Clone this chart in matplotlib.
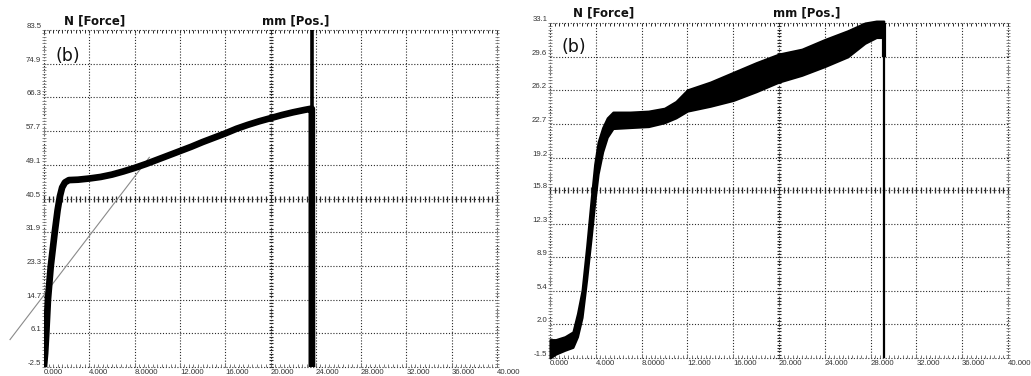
import numpy as np
import matplotlib.pyplot as plt

# ---------------- data ----------------
pos_ticks = [0, 4, 8, 12, 16, 20, 24, 28, 32, 36, 40]
pos_tick_labels = ["0.000", "4.000", "8.0000", "12.000", "16.000", "20.000",
                   "24.000", "28.000", "32.000", "36.000", "40.000"]

force_ticks_a = [-2.5, 6.1, 14.7, 23.3, 31.9, 40.5, 49.1, 57.7, 66.3, 74.9, 83.5]
force_ticks_b = [-1.5, 2.0, 5.4, 8.9, 12.3, 15.8, 19.2, 22.7, 26.2, 29.6, 33.1]

# left panel: force vs position
pos_a = [0.0, 0.1, 0.2, 0.35, 0.6, 0.95, 1.2, 1.4, 1.6, 1.85, 2.2, 3.0, 4.0,
         5.0, 6.0, 7.0, 8.0, 9.0, 10.0, 11.0, 12.0, 13.0, 14.0, 15.0, 16.0,
         17.0, 18.0, 19.0, 20.0, 21.0, 22.0, 23.0, 23.55]
force_a = [-2.3, 1.0, 6.0, 14.7, 23.3, 31.9, 37.5, 41.0, 43.3, 44.6, 45.2,
           45.3, 45.6, 46.0, 46.6, 47.4, 48.3, 49.3, 50.4, 51.5, 52.6, 53.7,
           54.9, 56.0, 57.1, 58.3, 59.3, 60.2, 61.0, 61.8, 62.5, 63.1, 63.4]
break_pos_a = 23.65
break_force_a = -2.5

# construction line (elastic slope)
tangent_pos = [-3.0, 9.3]
tangent_force = [4.5, 51.0]

# right panel: noisy force signal, lower/upper envelope
pos_b = [0.0, 0.5, 1.3, 2.0, 2.4, 2.8, 3.2, 3.6, 3.9, 4.2, 4.6, 5.0, 5.5,
         7.0, 8.6, 10.0, 11.0, 12.0, 14.0, 16.0, 18.0, 20.0, 22.0, 24.0,
         26.0, 27.5, 28.5, 29.15]
force_b_upper = [0.4, 0.4, 0.7, 1.2, 3.1, 5.5, 10.0, 15.0, 18.5, 20.8, 22.3,
                 23.3, 23.9, 23.9, 24.0, 24.3, 25.0, 26.2, 27.0, 28.0, 29.0,
                 29.9, 30.4, 31.4, 32.3, 33.1, 33.3, 33.3]
force_b_lower = [-1.5, -1.1, -0.7, -0.4, 0.7, 2.7, 6.6, 11.0, 14.5, 17.5, 19.8,
                 21.3, 22.2, 22.3, 22.4, 22.8, 23.3, 24.0, 24.5, 25.1, 26.0,
                 27.0, 27.7, 28.6, 29.6, 31.0, 31.6, 31.6]
break_pos_b = 29.2
break_force_b = [33.0, -1.5]

# ---------------- figure ----------------
fig = plt.figure(figsize=(10.31, 3.76), dpi=100)
ax_a = fig.add_axes([44 / 1031, 9 / 376, 453 / 1031, 337 / 376])
ax_b = fig.add_axes([550 / 1031, 18 / 376, 458 / 1031, 335 / 376])

GRID = "#2a2a2a"
TXT = "#333333"
dot = (0, (1.0, 1.6))


def style_axes(ax, yticks):
    ymin, ymax = yticks[0], yticks[-1]
    ax.set_xlim(0, 40)
    ax.set_ylim(ymin, ymax)
    for s in ax.spines.values():
        s.set_visible(False)
    ax.set_xticks(pos_ticks)
    ax.set_xticklabels(pos_tick_labels)
    ax.set_yticks(yticks)
    ax.set_yticklabels([f"{v:.1f}" for v in yticks])
    ax.tick_params(length=0, labelsize=5.6, labelcolor=TXT, pad=2)
    ax.tick_params(axis="x", pad=1.5)
    for lab in ax.get_xticklabels():
        lab.set_ha("left")
        lab.set_fontfamily("Liberation Sans")
    for lab in ax.get_yticklabels():
        lab.set_va("bottom")
        lab.set_fontfamily("Liberation Sans")

    ystep = (ymax - ymin) / 10
    # dotted grid (including the frame)
    for x in pos_ticks:
        ax.plot([x, x], [ymin, ymax], color=GRID, lw=0.8, ls=dot,
                zorder=1, clip_on=False)
    for y in yticks:
        ax.plot([0, 40], [y, y], color=GRID, lw=0.8, ls=dot,
                zorder=1, clip_on=False)

    # ruler marks on the centre cross and frame
    xs = np.arange(0, 40.001, 0.4)
    ys = np.arange(ymin, ymax + 1e-6, ystep / 10)
    mid_y = yticks[5]
    ax.plot(xs, np.full_like(xs, mid_y), ls="none", marker="|", ms=4,
            mew=0.9, color=GRID, zorder=1, clip_on=False)
    ax.plot(np.full_like(ys, 20), ys, ls="none", marker="_", ms=3.5,
            mew=0.8, color=GRID, zorder=1, clip_on=False)
    ax.plot(np.full_like(ys, 0), ys, ls="none", marker="_", ms=2.5,
            mew=0.6, color="#777777", zorder=1, clip_on=False)
    ax.plot(np.full_like(ys, 40), ys, ls="none", marker="_", ms=2.5,
            mew=0.6, color="#777777", zorder=1, clip_on=False)
    ax.plot(xs, np.full_like(xs, ymax), ls="none", marker=3, ms=2.5,
            mew=0.7, color=GRID, zorder=1, clip_on=False)
    ax.plot(xs, np.full_like(xs, ymin), ls="none", marker=2, ms=2.0,
            mew=0.6, color="#666666", zorder=1, clip_on=False)


style_axes(ax_a, force_ticks_a)
style_axes(ax_b, force_ticks_b)

# ---- left panel ----
ax_a.plot(tangent_pos, tangent_force, color="#8a8a8a", lw=0.8, zorder=2,
          clip_on=False)
ax_a.plot(pos_a + [break_pos_a, break_pos_a],
          force_a + [force_a[-1], break_force_a],
          color="black", lw=4.8, solid_joinstyle="round", zorder=3)
ax_a.axvline(break_pos_a, color="black", lw=2.6, zorder=3)
ax_a.plot([break_pos_a, break_pos_a], [force_ticks_a[4], break_force_a],
          color="black", lw=3.8, zorder=3)

# ---- right panel ----
ax_b.fill_between(pos_b, force_b_lower, force_b_upper,
                  color="black", lw=1.5, edgecolor="black", zorder=3,
                  clip_on=False)
ax_b.plot([break_pos_b, break_pos_b], break_force_b, color="black",
          lw=1.6, zorder=3)
ax_b.plot([break_pos_b - 0.05, break_pos_b - 0.05], [33.0, 29.8],
          color="black", lw=3.0, zorder=3)

# ---- headers and panel tags ----
hdr = dict(fontsize=8.5, fontweight="bold", color="#111111",
           ha="center", va="center")
fig.text(95 / 1031, 1 - 21 / 376, "N [Force]", **hdr)
fig.text(296 / 1031, 1 - 21 / 376, "mm [Pos.]", **hdr)
fig.text(604 / 1031, 1 - 13 / 376, "N [Force]", **hdr)
fig.text(807 / 1031, 1 - 13 / 376, "mm [Pos.]", **hdr)

ax_a.text(0.025, 0.95, "(b)", transform=ax_a.transAxes, fontsize=12.5,
          ha="left", va="top", color="#111111")
ax_b.text(0.025, 0.955, "(b)", transform=ax_b.transAxes, fontsize=12.5,
          ha="left", va="top", color="#111111")

fig.savefig("out.png", dpi=100)
